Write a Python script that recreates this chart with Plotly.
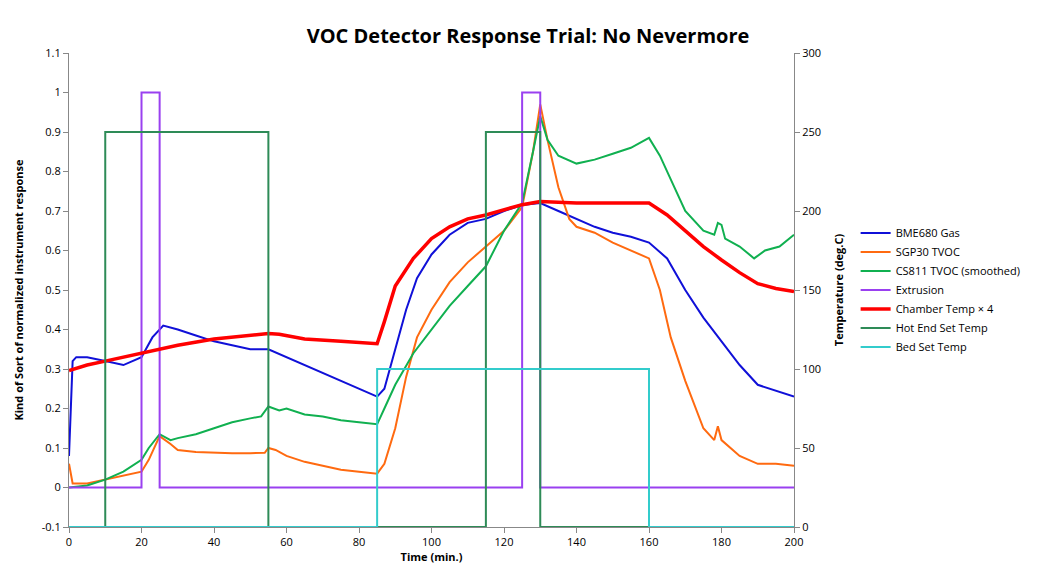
import plotly.graph_objects as go

t_bme = [0,1,2,5,10,15,20,23,26,30,35,40,45,50,55,60,65,70,75,80,85,87,90,93,96,100,105,110,115,120,125,130,135,140,145,150,155,160,165,170,175,180,185,190,195,200]
bme = [0.08,0.32,0.33,0.33,0.32,0.31,0.33,0.38,0.41,0.40,0.385,0.37,0.36,0.35,0.35,0.33,0.31,0.29,0.27,0.25,0.23,0.25,0.35,0.45,0.53,0.59,0.64,0.67,0.68,0.70,0.715,0.72,0.70,0.68,0.66,0.645,0.635,0.62,0.58,0.50,0.43,0.37,0.31,0.26,0.245,0.23]

t_sgp = [0,1,5,10,15,20,22,25,28,30,35,40,45,50,54,55,57,60,65,70,75,80,85,87,90,93,96,100,105,110,115,120,125,128,130,132,135,138,140,145,150,155,160,163,166,170,175,178,179,180,185,190,195,200]
sgp = [0.06,0.01,0.01,0.02,0.03,0.04,0.07,0.13,0.11,0.095,0.09,0.088,0.087,0.087,0.088,0.10,0.095,0.08,0.065,0.055,0.045,0.04,0.035,0.06,0.15,0.28,0.38,0.45,0.52,0.57,0.61,0.65,0.71,0.85,0.97,0.88,0.76,0.68,0.66,0.645,0.62,0.60,0.58,0.50,0.38,0.27,0.15,0.12,0.155,0.12,0.08,0.06,0.06,0.055]

t_ccs = [0,5,10,15,20,22,25,28,30,35,40,45,50,53,55,58,60,65,70,75,80,85,87,90,95,100,105,110,115,120,125,128,130,132,135,140,145,150,155,160,163,166,170,175,178,179,180,181,185,189,192,196,200]
ccs = [0.0,0.005,0.02,0.04,0.07,0.10,0.135,0.12,0.125,0.135,0.15,0.165,0.175,0.18,0.205,0.195,0.20,0.185,0.18,0.17,0.165,0.16,0.20,0.26,0.34,0.40,0.46,0.51,0.56,0.65,0.72,0.85,0.94,0.88,0.84,0.82,0.83,0.845,0.86,0.885,0.84,0.78,0.70,0.65,0.64,0.67,0.665,0.63,0.61,0.58,0.60,0.61,0.64]

t_ext = [0,20,20,25,25,125,125,130,130,200]
ext = [0,0,1,1,0,0,1,1,0,0]

t_ch = [0,5,10,20,30,40,50,55,58,65,75,85,87,90,95,100,105,110,115,120,125,130,140,150,160,165,170,175,180,185,190,195,200]
chamber = [99,102.5,105,110,115,119,121,122.5,122,119,117.5,116,130,152.5,170,182.5,190,195,197.5,201,204,206,205,205,205,197.5,187.5,177.5,169,161,154,151,149]

t_hot = [0,10,10,55,55,115,115,130,130,200]
hot = [0,0,250,250,0,0,250,250,0,0]

t_bed = [0,85,85,160,160,200]
bed = [0,0,100,100,0,0]

fig = go.Figure()
fig.add_trace(go.Scatter(x=t_bme, y=bme, name="BME680 Gas", mode="lines", line=dict(color="#1010D8", width=2)))
fig.add_trace(go.Scatter(x=t_sgp, y=sgp, name="SGP30 TVOC", mode="lines", line=dict(color="#FF6A10", width=2)))
fig.add_trace(go.Scatter(x=t_ccs, y=ccs, name="CS811 TVOC (smoothed)", mode="lines", line=dict(color="#10B050", width=2)))
fig.add_trace(go.Scatter(x=t_ext, y=ext, name="Extrusion", mode="lines", line=dict(color="#9A40F0", width=2)))
fig.add_trace(go.Scatter(x=t_ch, y=chamber, name="Chamber Temp × 4", mode="lines", yaxis="y2", line=dict(color="#FF0000", width=3.5)))
fig.add_trace(go.Scatter(x=t_hot, y=hot, name="Hot End Set Temp", mode="lines", yaxis="y2", line=dict(color="#2E8B57", width=2)))
fig.add_trace(go.Scatter(x=t_bed, y=bed, name="Bed Set Temp", mode="lines", yaxis="y2", line=dict(color="#33CCCC", width=2)))

lt = [round(-0.1 + 0.1*i, 1) for i in range(13)]
fig.update_layout(
    width=1040, height=587, plot_bgcolor="white", paper_bgcolor="white",
    font=dict(family="Open Sans, Liberation Sans, sans-serif", size=11, color="black"),
    title=dict(text="<b>VOC Detector Response Trial: No Nevermore</b>", x=0.5, xanchor="center", y=0.965, font=dict(size=20)),
    margin=dict(l=61, r=254, t=45, b=68),
    xaxis=dict(range=[0,200], dtick=20, showline=True, linecolor="#888", ticks="outside", tickcolor="#888", showgrid=False, zeroline=False,
               title=dict(text="<b>Time (min.)</b>", font=dict(size=11), standoff=5)),
    yaxis=dict(range=[-0.1,1.1], tickvals=lt, ticktext=[("%g" % v) for v in lt], showline=True, linecolor="#888", ticks="outside", tickcolor="#888",
               showgrid=False, zeroline=False, title=dict(text="<b>Kind of Sort of normalized instrument response</b>", font=dict(size=11))),
    yaxis2=dict(range=[0,300], dtick=50, overlaying="y", side="right", showline=True, linecolor="#888", ticks="outside", tickcolor="#888",
                showgrid=False, zeroline=False, title=dict(text="<b>Temperature (deg.C)</b>", font=dict(size=11))),
    legend=dict(x=1.085, y=0.5, xanchor="left", yanchor="middle", font=dict(size=11), tracegroupgap=0, itemwidth=30),
    showlegend=True,
)
fig.write_html("out.html")
